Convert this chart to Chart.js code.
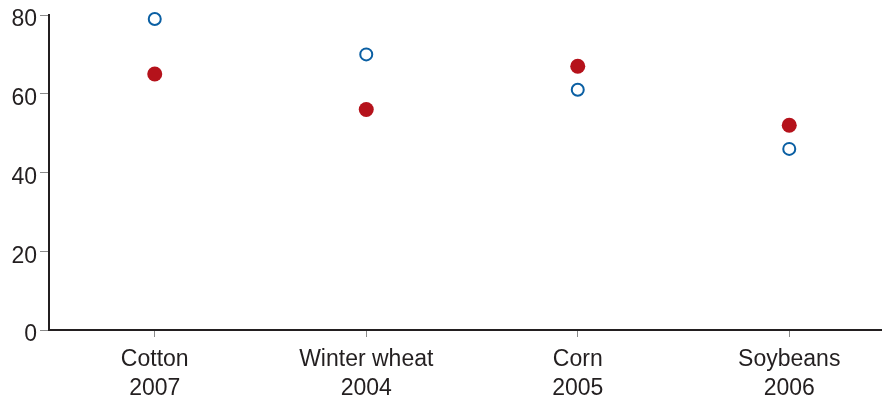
<!DOCTYPE html>
<html>
<head>
<meta charset="utf-8">
<script src="https://cdn.jsdelivr.net/npm/chart.js@4"></script>
<style>
  html, body { margin: 0; padding: 0; background: #fff; overflow: hidden; }
  #wrap { width: 882px; height: 402px; overflow: hidden; position: relative; }
  canvas { display: block; }
</style>
</head>
<body>
<div id="wrap"><canvas id="c" width="903" height="402"></canvas></div>
<script>
// Crops with their survey year
const crops = ['Cotton', 'Winter wheat', 'Corn', 'Soybeans'];
const years = ['2007', '2004', '2005', '2006'];
// Two series of percentages
const openSeries = [79, 70, 61, 46];
const filledSeries = [65, 56, 67, 52];
const yTicks = [0, 20, 40, 60, 80];

const labels = crops.map((c, i) => [c, years[i]]);
const textColor = '#231f20';
const fontFamily = '"Liberation Sans", Arial, Helvetica, sans-serif';

new Chart(document.getElementById('c'), {
  type: 'line',
  data: {
    labels: labels,
    datasets: [
      {
        data: openSeries,
        showLine: false,
        clip: false,
        pointStyle: 'circle',
        pointRadius: 6,
        pointBorderWidth: 2,
        pointBorderColor: '#0a5fa3',
        pointBackgroundColor: '#ffffff'
      },
      {
        data: filledSeries,
        showLine: false,
        clip: false,
        pointStyle: 'circle',
        pointRadius: 7.5,
        pointBorderWidth: 0,
        pointBorderColor: '#b5121b',
        pointBackgroundColor: '#b5121b'
      }
    ]
  },
  options: {
    responsive: false,
    animation: false,
    layout: { padding: { top: 15, left: 0, right: 0, bottom: 0 } },
    plugins: { legend: { display: false }, tooltip: { enabled: false } },
    scales: {
      x: {
        offset: true,
        grid: { display: true, drawOnChartArea: false, drawTicks: true, tickLength: 7, tickColor: '#8a8a8a', offset: false },
        border: { display: true, color: textColor, width: 2 },
        ticks: { color: textColor, font: { family: fontFamily, size: 23, lineHeight: 1.26 }, padding: 8, maxRotation: 0, autoSkip: false },
        afterFit: s => { s.height = 72; s.paddingLeft = 0; s.paddingRight = 0; }
      },
      y: {
        min: 0,
        max: 80,
        afterBuildTicks: s => { s.ticks = yTicks.map(v => ({ value: v })); },
        grid: { display: true, drawOnChartArea: false, drawTicks: true, tickLength: 9, tickColor: '#8a8a8a' },
        border: { display: true, color: textColor, width: 2 },
        ticks: { color: textColor, font: { family: fontFamily, size: 23 }, padding: 3, labelOffset: 5 },
        afterFit: s => { s.width = 49; s.paddingTop = 0; s.paddingBottom = 0; }
      }
    }
  }
});
</script>
</body>
</html>
